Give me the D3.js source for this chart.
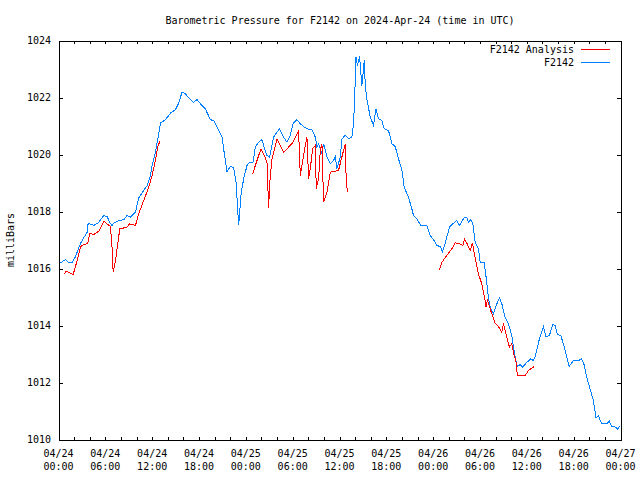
<!DOCTYPE html>
<html><head><meta charset="utf-8">
<script src="https://cdn.jsdelivr.net/npm/d3@7"></script>
<style>body{margin:0;background:#fff}svg{display:block}text{font-family:"DejaVu Sans Mono","Liberation Mono",monospace;font-size:10px;fill:#000}</style>
</head><body><svg id="c" width="640" height="480"></svg>
<script>
const title = "Barometric Pressure for F2142 on 2024-Apr-24 (time in UTC)";
const yLabel = "milliBars";
const seriesNames = ["F2142 Analysis", "F2142"];
const yTicks = [1010, 1012, 1014, 1016, 1018, 1020, 1022, 1024];
const xTickHours = [0, 6, 12, 18, 24, 30, 36, 42, 48, 54, 60, 66, 72];
const xTickDates = ["04/24","04/24","04/24","04/24","04/25","04/25","04/25","04/25","04/26","04/26","04/26","04/26","04/27"];
const xTickTimes = ["00:00","06:00","12:00","18:00","00:00","06:00","12:00","18:00","00:00","06:00","12:00","18:00","00:00"];

// hours since 2024-04-24 00:00 UTC
const stationHours = [0.26,0.90,1.32,1.75,2.18,2.82,3.24,3.67,3.80,4.52,5.16,5.80,6.23,6.66,6.87,7.08,7.72,8.36,8.79,9.22,9.86,10.28,10.92,11.35,11.78,11.99,12.42,12.84,13.06,13.70,14.34,14.98,15.40,15.83,16.26,16.90,17.32,17.75,18.18,18.82,19.46,19.88,20.52,20.95,21.25,21.59,22.02,22.44,22.75,23.08,23.39,23.72,24.15,24.49,24.92,25.22,25.64,26.07,26.28,26.71,27.05,27.56,27.99,28.33,28.84,29.27,29.70,30.04,30.55,30.98,31.40,31.83,32.47,32.90,33.11,33.32,33.75,33.96,34.39,34.82,35.24,35.46,35.67,36.10,36.31,36.74,37.16,37.59,37.80,37.93,38.11,38.31,38.57,38.87,39.17,39.30,39.51,39.94,40.36,40.67,41.00,41.43,41.73,42.28,42.71,43.14,43.56,44.00,44.29,44.84,45.27,45.48,45.91,46.25,46.43,47.20,47.62,48.04,48.47,48.90,49.19,49.54,50.09,50.60,51.03,51.37,51.97,52.31,52.52,52.83,53.08,53.38,53.80,54.02,54.53,54.78,55.08,55.30,55.72,56.16,56.49,56.80,57.22,57.64,58.07,58.28,58.59,58.79,59.14,59.48,59.90,60.51,60.84,61.06,61.61,62.12,62.46,62.89,63.32,63.62,63.91,64.35,64.68,65.02,65.41,65.96,66.60,67.03,67.37,67.67,68.10,68.52,68.86,69.16,69.60,70.23,70.57,70.88,71.42,71.59,71.85];
const stationPressure = [1016.19,1016.32,1016.20,1016.22,1016.42,1016.88,1017.08,1017.27,1017.59,1017.51,1017.62,1017.86,1017.82,1017.57,1017.51,1017.59,1017.68,1017.71,1017.86,1017.80,1017.98,1018.48,1018.74,1018.91,1019.26,1019.61,1020.08,1020.73,1021.10,1021.22,1021.45,1021.57,1021.80,1022.19,1022.13,1021.92,1021.83,1021.93,1021.78,1021.60,1021.22,1021.19,1020.84,1020.61,1020.02,1019.40,1019.58,1019.53,1019.03,1017.51,1018.62,1019.15,1019.61,1019.73,1019.73,1020.26,1020.43,1020.52,1020.32,1019.96,1019.91,1020.61,1020.78,1020.90,1020.61,1020.43,1020.67,1021.08,1021.22,1021.08,1020.98,1020.90,1020.87,1020.61,1020.26,1020.38,1020.02,1020.38,1019.91,1019.67,1019.79,1019.91,1019.50,1019.91,1020.55,1020.67,1020.55,1020.61,1021.08,1021.89,1023.41,1023.12,1023.44,1022.42,1023.30,1022.42,1021.95,1021.31,1021.02,1021.60,1021.25,1021.19,1020.90,1020.84,1020.38,1020.28,1019.85,1019.44,1018.85,1018.50,1018.09,1017.86,1017.74,1017.59,1017.51,1017.51,1017.16,1017.01,1016.81,1016.77,1016.60,1016.89,1017.45,1017.59,1017.68,1017.51,1017.78,1017.78,1017.62,1017.71,1017.57,1016.92,1016.69,1016.22,1016.22,1015.70,1014.99,1014.64,1014.41,1014.76,1014.97,1014.76,1014.29,1014.06,1013.65,1013.24,1012.77,1012.56,1012.63,1012.54,1012.68,1012.83,1012.77,1012.89,1013.53,1013.96,1013.59,1013.65,1014.03,1014.00,1013.68,1013.65,1013.36,1013.01,1012.56,1012.77,1012.77,1012.83,1012.60,1012.19,1011.78,1011.37,1010.76,1010.84,1010.55,1010.55,1010.64,1010.46,1010.43,1010.34,1010.46];

// analysis series; null marks a gap
const analysisHours = [0.77,0.90,1.32,1.88,2.39,2.82,3.03,3.75,4.01,4.52,5.16,5.80,6.66,6.87,7.00,7.30,7.85,8.79,9.09,9.86,10.28,10.92,11.56,11.99,12.42,12.71,12.97,
  18.0,
  24.87,25.43,25.94,26.28,26.71,26.92,27.05,27.35,27.99,28.84,29.27,29.91,30.76,30.98,31.19,31.62,31.83,32.04,32.26,32.55,32.90,33.02,33.32,33.54,33.75,33.96,34.39,34.82,35.24,35.88,36.19,36.52,36.74,36.86,37.03,
  42.0,
  48.81,49.12,49.75,50.39,50.82,51.37,51.80,52.01,52.31,52.74,53.03,53.25,53.50,53.80,54.23,54.66,54.78,54.95,55.51,55.94,56.49,56.80,57.00,57.44,57.77,58.07,58.28,58.62,58.79,59.78,60.20,60.63,60.97];
const analysisPressure = [1015.79,1015.90,1015.87,1015.79,1016.28,1016.75,1016.81,1016.89,1017.24,1017.19,1017.31,1017.66,1017.47,1016.69,1015.87,1016.28,1017.39,1017.45,1017.57,1017.51,1017.92,1018.39,1018.85,1019.26,1019.79,1020.26,1020.46,
  null,
  1019.32,1019.79,1020.20,1020.02,1019.73,1018.12,1018.97,1019.85,1020.55,1020.08,1020.20,1020.38,1020.82,1019.26,1019.61,1020.32,1020.61,1019.15,1019.50,1020.20,1020.32,1018.80,1019.15,1020.14,1020.38,1018.33,1018.68,1019.38,1019.40,1019.44,1019.79,1020.14,1020.35,1019.09,1018.68,
  null,
  1015.95,1016.22,1016.46,1016.69,1016.90,1016.87,1016.81,1017.03,1016.89,1016.63,1016.90,1016.57,1016.22,1015.81,1015.46,1014.88,1014.64,1014.88,1014.41,1014.08,1013.92,1013.76,1014.08,1013.59,1013.24,1013.36,1013.06,1012.71,1012.24,1012.24,1012.42,1012.51,1012.56];

const colors = ["#ff0000", "#0080ff"];

const svg = d3.select("#c");
const L = 58.5, R = 620.5, T = 40.5, B = 439.5;
const x = d3.scaleLinear().domain([0, 72]).range([L, R]);
const y = d3.scaleLinear().domain([1010, 1024]).range([B, T]);

// title
svg.append("text").attr("x", 340).attr("y", 24).attr("text-anchor", "middle").text(title);
// y label
svg.append("text").attr("transform", "translate(14,240) rotate(-90)").attr("text-anchor", "middle").text(yLabel);

const minorHours = d3.range(0, 73, 2);
// axes
const axB = d3.axisBottom(x).tickValues(minorHours).tickSize(-3).tickFormat("");
const axT = d3.axisTop(x).tickValues(minorHours).tickSize(-3).tickFormat("");
const axL = d3.axisLeft(y).tickValues(yTicks).tickSize(-4).tickFormat("");
const axR = d3.axisRight(y).tickValues(yTicks).tickSize(-4).tickFormat("");
[[axB, `translate(0,${B})`], [axT, `translate(0,${T})`], [axL, `translate(${L},0)`], [axR, `translate(${R},0)`]].forEach(([ax, tr]) => {
  const g = svg.append("g").attr("transform", tr).call(ax);
  g.selectAll("path,line").attr("stroke", "#000").attr("shape-rendering", "crispEdges");
});

// y tick labels
svg.append("g").selectAll("text").data(yTicks).join("text")
  .attr("x", 51).attr("y", d => y(d)).attr("dy", "0.35em").attr("text-anchor", "end").text(d => d);
// x tick labels
const xl = svg.append("g").selectAll("g").data(xTickHours).join("g")
  .attr("transform", d => `translate(${x(d)},0)`);
xl.append("text").attr("y", 457).attr("text-anchor", "middle").text((d, i) => xTickDates[i]);
xl.append("text").attr("y", 470).attr("text-anchor", "middle").text((d, i) => xTickTimes[i]);

const line = d3.line().defined(d => d[1] !== null).x(d => x(d[0])).y(d => y(d[1]));
const stationData = stationHours.map((h, i) => [h, stationPressure[i]]);
const analysisData = analysisHours.map((h, i) => [h, analysisPressure[i]]);

svg.append("path").datum(stationData).attr("d", line).attr("fill", "none").attr("stroke", colors[1]).attr("stroke-width", 1).attr("shape-rendering", "crispEdges");
svg.append("path").datum(analysisData).attr("d", line).attr("fill", "none").attr("stroke", colors[0]).attr("stroke-width", 1).attr("shape-rendering", "crispEdges");

// legend
seriesNames.forEach((name, i) => {
  const ly = 49.5 + i * 13;
  svg.append("text").attr("x", 574).attr("y", ly).attr("dy", "0.35em").attr("text-anchor", "end").text(name);
  svg.append("line").attr("x1", 581).attr("x2", 610).attr("y1", ly).attr("y2", ly).attr("stroke", colors[i]).attr("stroke-width", 1).attr("shape-rendering", "crispEdges");
});
</script></body></html>
